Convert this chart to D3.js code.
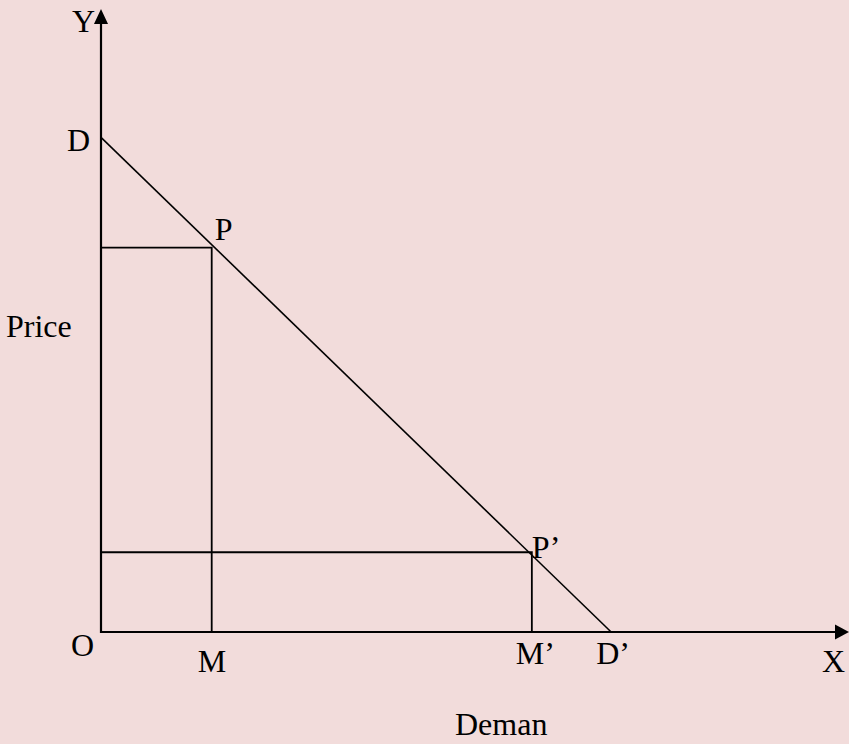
<!DOCTYPE html>
<html lang="en">
<head>
  <meta charset="utf-8">
  <script src="https://d3js.org/d3.v7.min.js"></script>
  <style>
    html, body { margin: 0; padding: 0; background: #f2dcdb; }
    svg { display: block; }
    text { font-family: "Liberation Serif", "Times New Roman", serif; font-size: 32px; fill: #000; }
  </style>
</head>
<body>
  <svg width="849" height="744"></svg>
  <script>
    // demand curve end points (quantity, price)
    var demandQty = [0, 6.82];
    var demandPrice = [7.94, 0];
    // the two points on the curve
    var pointNames = ["P", "P\u2019"];
    var footNames = ["M", "M\u2019"];
    var pointQty = [1.48, 5.76];
    var pointPrice = [6.17, 1.28];
    var axisMax = [10, 10];

    var svg = d3.select("svg");
    var x = d3.scaleLinear().domain([0, axisMax[0]]).range([101, 849]);
    var y = d3.scaleLinear().domain([0, axisMax[1]]).range([632, 9]);

    // axes
    svg.append("line").attr("x1", x(0)).attr("y1", y(0) + 1).attr("x2", x(0)).attr("y2", y(axisMax[1]) + 10)
      .attr("stroke", "#000").attr("stroke-width", 2.2);
    svg.append("line").attr("x1", x(0) - 1).attr("y1", y(0)).attr("x2", x(axisMax[0]) - 8).attr("y2", y(0))
      .attr("stroke", "#000").attr("stroke-width", 2.2);
    // arrow heads
    svg.append("path")
      .attr("d", "M" + x(0) + "," + y(axisMax[1]) + "L" + (x(0) - 7) + "," + (y(axisMax[1]) + 15) + "L" + (x(0) + 7) + "," + (y(axisMax[1]) + 15) + "Z")
      .attr("fill", "#000");
    svg.append("path")
      .attr("d", "M" + x(axisMax[0]) + "," + y(0) + "L" + (x(axisMax[0]) - 14) + "," + (y(0) - 7.5) + "L" + (x(axisMax[0]) - 14) + "," + (y(0) + 7.5) + "Z")
      .attr("fill", "#000");

    // demand line D -> D'
    svg.append("line")
      .attr("x1", x(demandQty[0])).attr("y1", y(demandPrice[0]))
      .attr("x2", x(demandQty[1])).attr("y2", y(demandPrice[1]))
      .attr("stroke", "#000").attr("stroke-width", 1.6);

    // rectangles under P and P'
    var g = svg.append("g").attr("stroke", "#000").attr("stroke-width", 1.8).attr("fill", "none");
    pointQty.forEach(function (q, i) {
      g.append("path")
        .attr("d", "M" + x(0) + "," + y(pointPrice[i]) + "H" + x(q) + "V" + y(0));
    });

    // labels
    function label(t, px, py) {
      svg.append("text").attr("x", px).attr("y", py).text(t);
    }
    label("Y", x(0) - 29, y(axisMax[1]) + 23);
    label("X", x(axisMax[0]) - 27, y(0) + 40);
    label("O", x(0) - 30, y(0) + 24);
    label("D", x(0) - 34, y(demandPrice[0]) + 14);
    label("D\u2019", x(demandQty[1]) - 15, y(0) + 32);
    pointNames.forEach(function (n, i) {
      label(n, x(pointQty[i]) + (i == 0 ? 3 : 0), y(pointPrice[i]) - (i == 0 ? 8 : -6));
    });
    footNames.forEach(function (n, i) {
      label(n, x(pointQty[i]) - (i == 0 ? 14 : 16), y(0) + (i == 0 ? 40 : 32));
    });
    label("Price", 6, 337);
    label("Deman", 455, 735);
  </script>
</body>
</html>
